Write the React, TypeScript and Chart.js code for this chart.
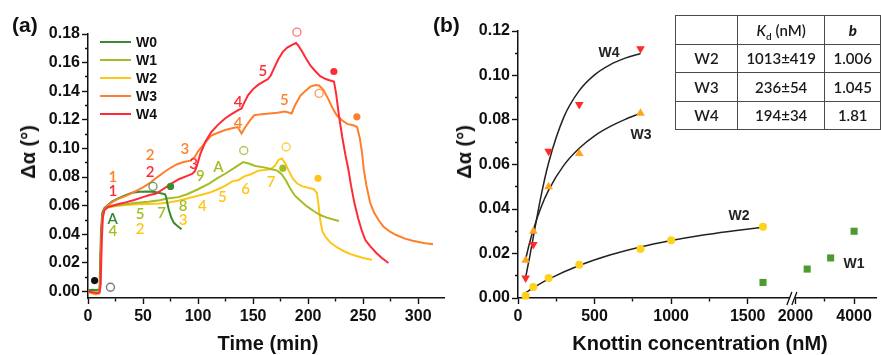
import React, { useEffect, useRef } from "react";
import { Chart, registerables } from "chart.js";

Chart.register(...registerables);

type Pt = [number, number];

// ---------------- colours ----------------
const C_W0 = "#3a8a30";
const C_W1 = "#a5bd25";
const C_W2 = "#ffc61a";
const C_W3 = "#ff7f2a";
const C_W4 = "#ff2a35";

// ---------------- panel (a): time traces (min, deg) ----------------
const W0_TRACE: Pt[] = [[0,0.001],[4,0.0012],[8,0.001],[10,0.0012],[10.8,0.012],[11.8,0.042],[13,0.055],[15,0.0585],[18,0.0605],[22,0.063],[27,0.065],[33,0.067],[40,0.069],[47,0.0698],[54,0.07],[61,0.0695],[67,0.0685],[70,0.068],[71,0.066],[72,0.062],[73.5,0.057],[75.5,0.052],[78,0.048],[81,0.046],[85,0.0435]];
const W1_TRACE: Pt[] = [[0,0.0008],[5,0.001],[9,0.0008],[10.5,0.003],[11.3,0.02],[12.3,0.045],[13.5,0.055],[15,0.0575],[18,0.059],[25,0.06],[35,0.0612],[45,0.062],[55,0.0628],[65,0.0638],[72,0.065],[82,0.066],[90,0.068],[100,0.0715],[110,0.0755],[118,0.0795],[125,0.0825],[133,0.0865],[141,0.0905],[146,0.0895],[152,0.0878],[160,0.0868],[167,0.0855],[172,0.0845],[176,0.082],[180,0.0775],[184,0.0716],[188,0.067],[193,0.0634],[199,0.0595],[205,0.0563],[211,0.0535],[217,0.0517],[222,0.0505],[228,0.0493]];
const W2_TRACE: Pt[] = [[0,0],[3,-0.001],[7,-0.002],[10,-0.0015],[11,0.005],[12,0.035],[13,0.052],[14.5,0.057],[17,0.0585],[25,0.0598],[35,0.0605],[45,0.061],[55,0.0612],[65,0.0615],[72,0.062],[82,0.0635],[90,0.065],[100,0.067],[110,0.069],[118,0.0715],[125,0.074],[131,0.077],[137,0.078],[142,0.0805],[148,0.082],[155,0.0845],[160,0.085],[166,0.0855],[170,0.088],[173,0.092],[176,0.093],[179,0.09],[182,0.085],[186,0.079],[190,0.0755],[195,0.0735],[200,0.0725],[205,0.0715],[208,0.069],[209.5,0.06],[211,0.05],[213,0.042],[216,0.038],[220,0.0345],[226,0.031],[233,0.028],[241,0.0255],[250,0.0235],[258,0.0223]];
const W3_TRACE: Pt[] = [[0,0],[3,-0.0008],[7,-0.0015],[10,-0.001],[11,0.005],[12,0.035],[13,0.052],[14.5,0.057],[17,0.0595],[22,0.0625],[27,0.0646],[35,0.067],[42,0.0697],[50,0.0728],[57,0.0763],[63,0.08],[69,0.0834],[75,0.0865],[81,0.089],[87,0.0905],[93,0.0915],[97,0.094],[100,0.098],[106,0.1035],[112,0.109],[118,0.111],[124,0.1127],[130,0.114],[136,0.115],[139.5,0.1105],[143,0.115],[147,0.1195],[151,0.1232],[158,0.124],[165,0.1245],[172,0.125],[179,0.1258],[183,0.125],[185,0.1245],[188,0.13],[193,0.137],[198,0.1405],[202,0.1432],[207,0.1444],[210,0.144],[214,0.1408],[218,0.135],[222,0.1285],[226,0.1232],[231,0.1195],[236,0.117],[241,0.1162],[244.5,0.115],[247,0.107],[249,0.097],[250.5,0.0857],[253,0.074],[256.3,0.0622],[260,0.055],[264,0.05],[268.3,0.0455],[274,0.042],[280,0.0395],[288,0.037],[295,0.0355],[305,0.034],[313.5,0.033]];
const W4_TRACE: Pt[] = [[0,0],[4,-0.0005],[8,-0.001],[10.5,-0.0008],[11.5,0.005],[12.5,0.035],[13.5,0.052],[15,0.057],[18,0.059],[22,0.06],[27,0.061],[35,0.0625],[42,0.064],[50,0.066],[56,0.0675],[62,0.0685],[67,0.071],[73,0.074],[78,0.0765],[83,0.0787],[89,0.0805],[94.5,0.0822],[97,0.084],[99,0.088],[102,0.096],[106.5,0.1045],[112,0.1115],[118,0.1165],[124.5,0.121],[130,0.1238],[136.5,0.1268],[139.5,0.128],[142,0.132],[145.5,0.1373],[150,0.1415],[154.5,0.1444],[159,0.1465],[163.5,0.1485],[166,0.151],[169,0.156],[173,0.1625],[177,0.1675],[181,0.1705],[185,0.1722],[189,0.1737],[191,0.172],[194,0.1685],[198,0.163],[202,0.158],[206,0.1545],[211,0.1505],[216,0.1485],[220,0.1475],[223.5,0.1468],[225.5,0.138],[228,0.123],[231,0.108],[234,0.095],[236.5,0.0857],[239,0.074],[242,0.062],[245.5,0.051],[249,0.042],[252,0.036],[256.3,0.0317],[262,0.027],[267,0.0235],[273,0.02]];

// filled dots and open circles in panel (a)
const DOT_T = [6, 75, 177, 209, 244.3, 223.4];
const DOT_V = [0.0077, 0.0735, 0.0862, 0.0792, 0.1221, 0.1538];
const DOT_COLOR = ["#111111", C_W0, C_W1, C_W2, C_W3, C_W4];
const RING_T = [20.4, 59, 141.5, 180, 210, 189.8];
const RING_V = [0.003, 0.0735, 0.0986, 0.101, 0.1385, 0.1813];
const RING_COLOR = ["#777777", "#6f9a6f", "#b3c55a", "#ffcf45", "#ff9c5c", "#ff7a7a"];

// coloured step labels in panel (a)
const NOTE_A_T = [22.5, 22.5, 56.4, 56.4, 87.9, 96, 136.4, 136.4, 158.9, 178.4, 22.5, 22.5, 47.4, 47.4, 66.9, 86.3, 86.3, 102, 118.4, 104, 122, 143.3, 166.4];
const NOTE_A_V = [0.0799, 0.0704, 0.0951, 0.0834, 0.0998, 0.0892, 0.1327, 0.1174, 0.1538, 0.1338, 0.0505, 0.0423, 0.054, 0.0435, 0.0547, 0.0599, 0.050, 0.081, 0.0869, 0.0599, 0.0658, 0.0716, 0.0768];
const NOTE_A_TEXT = ["1", "1", "2", "2", "3", "3", "4", "4", "5", "5", "A", "4", "5", "2", "7", "8", "3", "9", "A", "4", "5", "6", "7"];
const NOTE_A_COLOR = [C_W3, C_W4, C_W3, C_W4, C_W3, C_W4, C_W4, C_W3, C_W4, C_W3, "#2f8a2f", C_W1, C_W1, C_W2, C_W1, C_W1, C_W2, C_W1, C_W1, C_W2, C_W2, C_W2, C_W2];

const LEGEND_NAMES = ["W0", "W1", "W2", "W3", "W4"];
const LEGEND_COLORS = [C_W0, C_W1, C_W2, C_W3, C_W4];

const TIME_MAJOR = [0, 50, 100, 150, 200, 250, 300];
const TIME_MINOR = [25, 75, 125, 175, 225, 275];
const DA_MAJOR_A = [0, 0.02, 0.04, 0.06, 0.08, 0.1, 0.12, 0.14, 0.16, 0.18];
const DA_MINOR_A = [0.01, 0.03, 0.05, 0.07, 0.09, 0.11, 0.13, 0.15, 0.17];

// ---------------- panel (b): binding vs concentration ----------------
const CONC_W1 = [1600, 2400, 3200, 4000];
const DA_W1 = [0.007, 0.013, 0.018, 0.030];
const CONC_W2 = [50, 100, 200, 400, 800, 1000, 1600];
const DA_W2 = [0.001, 0.005, 0.009, 0.015, 0.022, 0.026, 0.032];
const CONC_W3 = [50, 100, 200, 400, 800];
const DA_W3 = [0.017, 0.030, 0.050, 0.065, 0.083];
const CONC_W4 = [50, 100, 200, 400, 800];
const DA_W4 = [0.009, 0.024, 0.066, 0.087, 0.112];

// fitted curves
const FIT_W2_X = [50, 100, 200, 400, 600, 800, 1000, 1200, 1400, 1600];
const FIT_W2_Y = [0.0024, 0.0046, 0.0085, 0.0146, 0.0193, 0.0229, 0.0258, 0.0282, 0.0301, 0.0318];
const FIT_W3_X = [50, 75, 100, 150, 200, 300, 400, 500, 600, 700, 800];
const FIT_W3_Y = [0.0175, 0.0246, 0.0307, 0.0407, 0.0485, 0.0597, 0.0673, 0.0729, 0.077, 0.0803, 0.083];
const FIT_W4_X = [50, 75, 100, 150, 200, 300, 400, 500, 600, 700, 800];
const FIT_W4_Y = [0.0094, 0.018, 0.0274, 0.0457, 0.0608, 0.0814, 0.0932, 0.1003, 0.1048, 0.1078, 0.1099];

const NOTE_B_X = [595, 804, 1444, 4000];
const NOTE_B_V = [0.110, 0.0733, 0.0366, 0.015];
const NOTE_B_TEXT = ["W4", "W3", "W2", "W1"];

const CONC_MAJOR = [0, 500, 1000, 1500, 2000, 4000];
const CONC_MINOR = [250, 750, 1250, 3000];
const DA_MAJOR_B = [0, 0.02, 0.04, 0.06, 0.08, 0.1, 0.12];
const DA_MINOR_B = [0.01, 0.03, 0.05, 0.07, 0.09, 0.11];

const TABLE_NAMES = ["W2", "W3", "W4"];
const TABLE_KD = ["1013±419", "236±54", "194±34"];
const TABLE_B = ["1.006", "1.045", "1.81"];

// broken concentration axis: 0..1800 linear, then compressed after 2000
const BREAK_U = 1795;
const toU = (nM: number) => (nM <= 1800 ? nM : 1812 + (nM - 2000) * 0.1915);

const FONT_FAMILY = '"Liberation Sans", Arial, sans-serif';
const TICK_FONT = { family: FONT_FAMILY, size: 16, weight: "bold" as const };
const NOTE_FONT = '600 15px Lato, "Open Sans", sans-serif';

const near = (list: number[], v: number) => list.some((m) => Math.abs(m - v) < 1e-9);

function notesPlugin(id: string, xs: number[], ys: number[], texts: string[], colors: string[], font: string) {
  return {
    id,
    afterDatasetsDraw(chart: any) {
      const { ctx, scales } = chart;
      ctx.save();
      ctx.font = font;
      ctx.textAlign = "center";
      ctx.textBaseline = "middle";
      texts.forEach((t, i) => {
        ctx.fillStyle = colors[i];
        ctx.fillText(t, scales.x.getPixelForValue(xs[i]), scales.y.getPixelForValue(ys[i]));
      });
      ctx.restore();
    },
  };
}

const breakPlugin = {
  id: "axisBreak",
  afterDraw(chart: any) {
    const { ctx, scales, chartArea } = chart;
    const x = scales.x.getPixelForValue(BREAK_U);
    const y = chartArea.bottom;
    ctx.save();
    ctx.fillStyle = "#ffffff";
    ctx.fillRect(x - 3, y - 2, 5, 5);
    ctx.strokeStyle = "#111";
    ctx.lineWidth = 1.3;
    ctx.beginPath();
    ctx.moveTo(x - 6, y + 7);
    ctx.lineTo(x - 1, y - 6);
    ctx.moveTo(x - 1, y + 7);
    ctx.lineTo(x + 4, y - 6);
    ctx.stroke();
    ctx.restore();
  },
};

function axis(opts: {
  min: number; max: number; major: number[]; minor: number[];
  label: (v: number) => string; vertical: boolean; size: number;
}) {
  const all = [...opts.major, ...opts.minor].sort((a, b) => a - b);
  return {
    type: "linear",
    bounds: "data",
    min: opts.min,
    max: opts.max,
    afterFit: (s: any) => {
      if (opts.vertical) s.width = opts.size;
      else s.height = opts.size;
    },
    afterBuildTicks: (s: any) => {
      s.ticks = all.map((v) => ({ value: v }));
    },
    ticks: {
      autoSkip: false,
      maxRotation: 0,
      minRotation: 0,
      padding: opts.vertical ? 2 : 3,
      color: "#111",
      font: TICK_FONT,
      callback: (v: number) => (near(opts.major, v) ? opts.label(v) : ""),
    },
    grid: {
      display: true,
      drawOnChartArea: false,
      drawTicks: true,
      tickLength: 6,
      tickWidth: 1.4,
      tickColor: "#111",
      tickBorderDash: (c: any) =>
        c.tick && near(opts.minor, c.tick.value) ? (opts.vertical ? [0, 3, 3, 50] : [3, 50]) : [],
    },
    border: { display: true, color: "#111", width: 1.5 },
  };
}

const traceDs = (trace: Pt[], color: string) => ({
  type: "scatter",
  data: trace.map(([t, v]) => ({ x: t, y: v })),
  showLine: true,
  borderColor: color,
  borderWidth: 2,
  pointRadius: 0,
  tension: 0,
  order: 2,
});

export default function App() {
  const refA = useRef<HTMLCanvasElement>(null);
  const refB = useRef<HTMLCanvasElement>(null);

  useEffect(() => {
    const chartA = new Chart(refA.current as HTMLCanvasElement, {
      type: "scatter",
      data: {
        datasets: [
          traceDs(W4_TRACE, C_W4),
          traceDs(W3_TRACE, C_W3),
          traceDs(W0_TRACE, C_W0),
          traceDs(W1_TRACE, C_W1),
          traceDs(W2_TRACE, C_W2),
          {
            type: "scatter",
            data: DOT_T.map((t, i) => ({ x: t, y: DOT_V[i] })),
            pointRadius: 3.6,
            pointBackgroundColor: DOT_COLOR,
            pointBorderWidth: 0,
            clip: false,
            order: 0,
          },
          {
            type: "scatter",
            data: RING_T.map((t, i) => ({ x: t, y: RING_V[i] })),
            pointRadius: 4,
            pointBackgroundColor: "rgba(0,0,0,0)",
            pointBorderColor: RING_COLOR,
            pointBorderWidth: 1.4,
            clip: false,
            order: 0,
          },
        ] as any,
      },
      options: {
        animation: false,
        responsive: false,
        layout: { padding: { top: 34, right: 2, left: 0, bottom: 0 } },
        plugins: { legend: { display: false }, tooltip: { enabled: false } },
        scales: {
          x: axis({ min: 0, max: 324, major: TIME_MAJOR, minor: TIME_MINOR, label: (v) => String(v), vertical: false, size: 57 }),
          y: axis({ min: -0.0045, max: 0.18, major: DA_MAJOR_A, minor: DA_MINOR_A, label: (v) => v.toFixed(2), vertical: true, size: 88 }),
        } as any,
      },
      plugins: [notesPlugin("notesA", NOTE_A_T, NOTE_A_V, NOTE_A_TEXT, NOTE_A_COLOR, NOTE_FONT)],
    } as any);

    const pts = (xs: number[], ys: number[]) => xs.map((x, i) => ({ x: toU(x), y: ys[i] }));
    const fitDs = (xs: number[], ys: number[]) => ({
      type: "scatter",
      data: pts(xs, ys),
      showLine: true,
      borderColor: "#222",
      borderWidth: 1.5,
      pointRadius: 0,
      cubicInterpolationMode: "monotone",
      order: 2,
    });
    const markDs = (xs: number[], ys: number[], color: string, style: string, r: number, rot = 0) => ({
      type: "scatter",
      data: pts(xs, ys),
      pointStyle: style,
      rotation: rot,
      pointRadius: r,
      pointBackgroundColor: color,
      pointBorderColor: color,
      pointBorderWidth: 0,
      clip: false,
      order: 1,
    });
    const uLabels = new Map<number, string>();
    CONC_MAJOR.forEach((c) => uLabels.set(toU(c), String(c)));

    const chartB = new Chart(refB.current as HTMLCanvasElement, {
      type: "scatter",
      data: {
        datasets: [
          fitDs(FIT_W4_X, FIT_W4_Y),
          fitDs(FIT_W3_X, FIT_W3_Y),
          fitDs(FIT_W2_X, FIT_W2_Y),
          markDs(CONC_W4, DA_W4, "#ff2a2a", "triangle", 5, 180),
          markDs(CONC_W3, DA_W3, "#ffa41c", "triangle", 5),
          markDs(CONC_W2, DA_W2, "#ffd21a", "circle", 4),
          markDs(CONC_W1, DA_W1, "#4d9a2e", "rect", 5),
        ] as any,
      },
      options: {
        animation: false,
        responsive: false,
        layout: { padding: { top: 31, right: 3, left: 0, bottom: 0 } },
        plugins: { legend: { display: false }, tooltip: { enabled: false } },
        scales: {
          x: axis({
            min: 0, max: 2338,
            major: CONC_MAJOR.map(toU), minor: CONC_MINOR.map(toU),
            label: (v) => {
              let out = "";
              uLabels.forEach((lab, u) => { if (Math.abs(u - v) < 1e-9) out = lab; });
              return out;
            },
            vertical: false, size: 57,
          }),
          y: axis({ min: 0, max: 0.12, major: DA_MAJOR_B, minor: DA_MINOR_B, label: (v) => v.toFixed(2), vertical: true, size: 78 }),
        } as any,
      },
      plugins: [
        breakPlugin,
        notesPlugin("notesB", NOTE_B_X.map(toU), NOTE_B_V, NOTE_B_TEXT, ["#222", "#222", "#222", "#222"], `bold 14px ${FONT_FAMILY}`),
      ],
    } as any);

    return () => {
      chartA.destroy();
      chartB.destroy();
    };
  }, []);

  const bold = (size: number): React.CSSProperties => ({
    position: "absolute",
    fontFamily: FONT_FAMILY,
    fontWeight: "bold",
    fontSize: size,
    lineHeight: 1,
    color: "#111",
    whiteSpace: "nowrap",
  });

  const cell = (w: number): React.CSSProperties => ({
    width: w,
    border: "1.5px solid #4a4a4a",
    textAlign: "center",
    padding: 0,
    boxSizing: "border-box",
    height: 28.5,
  });

  return (
    <div style={{ position: "absolute", left: 0, top: 0, width: 881, height: 355, background: "#fff", overflow: "hidden" }}>
      <canvas ref={refA} width={450} height={355} style={{ position: "absolute", left: 0, top: 0 }} />
      <canvas ref={refB} width={441} height={355} style={{ position: "absolute", left: 440, top: 0 }} />

      <div style={{ ...bold(21), left: 12, top: 14 }}>(a)</div>
      <div style={{ ...bold(21), left: 433, top: 14 }}>(b)</div>

      <div style={{ ...bold(20), left: 28, top: 152, transform: "translate(-50%, -50%) rotate(-90deg)" }}>Δα (°)</div>
      <div style={{ ...bold(20), left: 464, top: 152, transform: "translate(-50%, -50%) rotate(-90deg)" }}>Δα (°)</div>

      <div style={{ ...bold(20), left: 268, top: 343, transform: "translate(-50%, -50%)" }}>Time (min)</div>
      <div style={{ ...bold(20), left: 700, top: 343, transform: "translate(-50%, -50%)" }}>Knottin concentration (nM)</div>

      {LEGEND_NAMES.map((n, i) => (
        <React.Fragment key={n}>
          <div style={{ position: "absolute", left: 100, top: 42 + i * 18 - 1.25, width: 31, height: 2.5, background: LEGEND_COLORS[i] }} />
          <div style={{ ...bold(14), left: 136, top: 42 + i * 18 - 7 }}>{n}</div>
        </React.Fragment>
      ))}

      <table
        style={{
          position: "absolute",
          left: 675,
          top: 15,
          borderCollapse: "collapse",
          fontFamily: 'Lato, "Open Sans", sans-serif',
          fontWeight: 600,
          fontSize: 15,
          color: "#1a1a1a",
          tableLayout: "fixed",
        }}
      >
        <tbody>
          <tr>
            <td style={cell(63)}></td>
            <td style={cell(88)}>
              <i>K</i>
              <span style={{ fontSize: 10, position: "relative", top: 4 }}>d</span> (nM)
            </td>
            <td style={cell(56)}>
              <b>
                <i>b</i>
              </b>
            </td>
          </tr>
          {TABLE_NAMES.map((n, i) => (
            <tr key={n}>
              <td style={cell(63)}>{n}</td>
              <td style={cell(88)}>{TABLE_KD[i]}</td>
              <td style={cell(56)}>{TABLE_B[i]}</td>
            </tr>
          ))}
        </tbody>
      </table>
    </div>
  );
}
